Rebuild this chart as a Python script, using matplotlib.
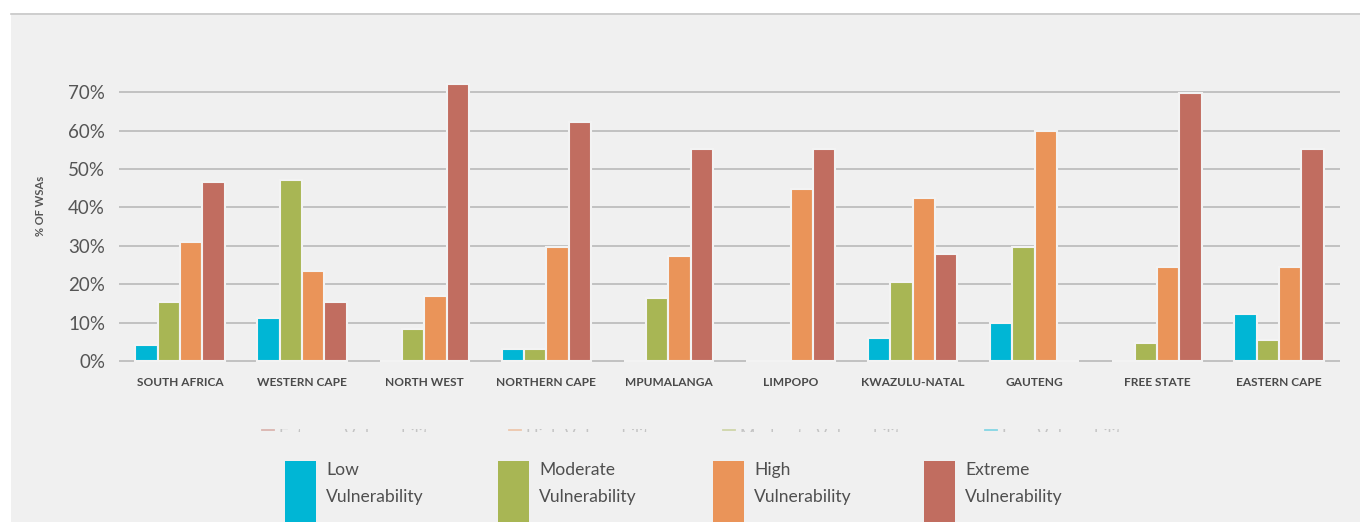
import matplotlib
matplotlib.use("Agg")
import matplotlib.pyplot as plt
from matplotlib.patches import Rectangle
from matplotlib.lines import Line2D
import numpy as np

plt.rcParams['font.family'] = ['Lato', 'DejaVu Sans']

regions = ["SOUTH AFRICA", "WESTERN CAPE", "NORTH WEST", "NORTHERN CAPE",
           "MPUMALANGA", "LIMPOPO", "KWAZULU-NATAL", "GAUTENG",
           "FREE STATE", "EASTERN CAPE"]
series_names = ["Low\nVulnerability", "Moderate\nVulnerability",
                "High\nVulnerability", "Extreme\nVulnerability"]
low = [4.2, 11.1, 0, 3.1, 0, 0, 6.0, 10.0, 0, 12.3]
moderate = [15.3, 47.1, 8.3, 3.1, 16.4, 0, 20.5, 29.8, 4.8, 5.4]
high = [30.9, 23.4, 16.9, 29.7, 27.4, 44.8, 42.5, 59.9, 24.5, 24.5]
extreme = [46.5, 15.3, 72.1, 62.3, 55.2, 55.2, 28.0, 0, 69.7, 55.2]
y_ticks = [0, 10, 20, 30, 40, 50, 60, 70]

colors = ["#00b6d5", "#a8b654", "#ea9459", "#c16d60"]
bg = "#f0f0f0"

W, H = 1360, 522
fig = plt.figure(figsize=(W / 100, H / 100), dpi=100)
fig.patch.set_facecolor("white")

# grey panel with thin rule along its top edge
fig.patches.append(Rectangle((11 / W, 0), 1 - 11 / W, (H - 13) / H,
                             transform=fig.transFigure, facecolor=bg,
                             edgecolor="none", zorder=-10))
fig.lines.append(Line2D([11 / W, 1], [(H - 13.5) / H, (H - 13.5) / H],
                        transform=fig.transFigure, color="#c8c8c8", lw=1.2,
                        zorder=-9))

px_per = 3.839
ymin, ymax = -0.5, 75
y0_px = 361 + 0.5 * px_per
y1_px = 361 - 75 * px_per
ax = fig.add_axes([119 / W, (H - y0_px) / H, 1221 / W, (y0_px - y1_px) / H])
ax.set_zorder(1)
ax.set_facecolor("none")
ax.set_xlim(-0.5, len(regions) - 0.5)
ax.set_ylim(ymin, ymax)

x = np.arange(len(regions))
pitch = 0.183
for k, vals in enumerate([low, moderate, high, extreme]):
    ax.bar(x + (k - 1.5) * pitch, vals, width=pitch, color=colors[k],
           edgecolor="#f3f3f3", linewidth=1.5, zorder=3)

ax.set_yticks(y_ticks)
ax.set_yticklabels([f"{v}%" for v in y_ticks])
ax.yaxis.grid(True, color="#b4b4b4", lw=1.1, zorder=1)
ax.set_axisbelow(True)
ax.set_xticks(x)
ax.set_xticklabels(regions, fontweight="bold")
ax.tick_params(axis="y", length=0, pad=10, labelsize=13.5, labelcolor="#555555")
ax.tick_params(axis="x", length=0, pad=10, labelsize=8.6, labelcolor="#4a4a4a")
for s in ax.spines.values():
    s.set_visible(False)

fig.text(40 / W, (H - 206) / H, "% OF WSAs", rotation=90, ha="center",
         va="center", fontsize=8, fontweight="bold", color="#555555")

# faded legend strip
ghost_x = [262, 509, 723, 985]
ghost_names = ["Extreme Vulnerability", "High Vulnerability",
               "Moderate Vulnerability", "Low Vulnerability"]
ghost_cols = [colors[3], colors[2], colors[1], colors[0]]
band = Rectangle((0, (H - 432) / H), 1, 3 / H, transform=fig.transFigure,
                 facecolor="none", edgecolor="none")
fig.patches.append(band)
for gx, name, c in zip(ghost_x, ghost_names, ghost_cols):
    fig.lines.append(Line2D([gx / W, (gx + 12) / W], [(H - 430) / H] * 2,
                            transform=fig.transFigure, color=c, lw=1.3,
                            alpha=0.45))
    t = fig.text((gx + 17) / W, (H - 436) / H, name, fontsize=12,
                 color="#c4c4c4", va="center")
    t.set_clip_path(band)

# legend
leg_x = [285, 498, 713, 924]
for lx, name, c in zip(leg_x, series_names, colors):
    fig.patches.append(Rectangle((lx / W, 0), 31 / W, (H - 461) / H,
                                 transform=fig.transFigure, facecolor=c,
                                 edgecolor="none", zorder=2))
    first, second = name.split("\n")
    fig.text((lx + 41) / W, (H - 470) / H, first, fontsize=12.6,
             color="#4f4f4f", va="center")
    fig.text((lx + 41) / W, (H - 497) / H, second, fontsize=12.6,
             color="#4f4f4f", va="center")

fig.savefig("out.png", dpi=100, facecolor=fig.get_facecolor())
